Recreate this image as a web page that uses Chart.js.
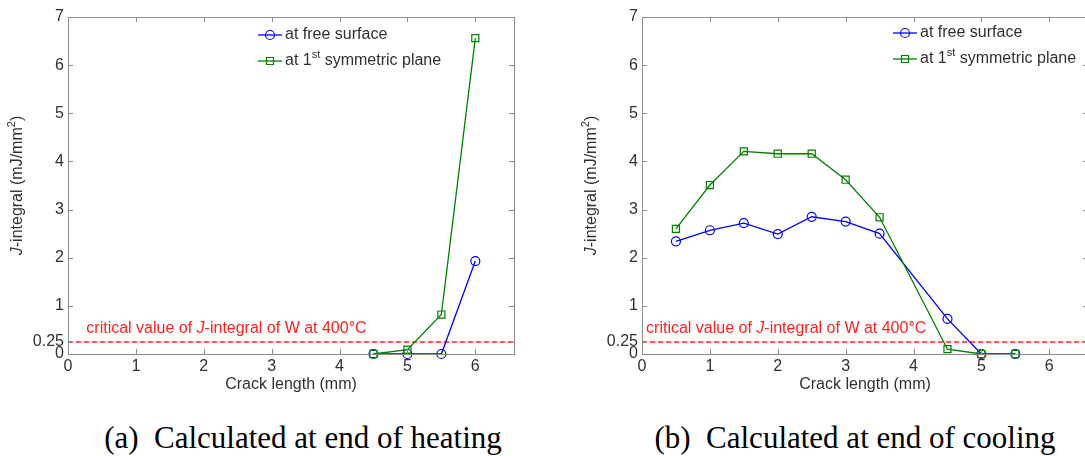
<!DOCTYPE html>
<html>
<head>
<meta charset="utf-8">
<script src="https://cdn.jsdelivr.net/npm/chart.js@4.4.1/dist/chart.umd.min.js"></script>
<style>
  html, body { margin: 0; padding: 0; background: #fff; }
  body { width: 1085px; height: 456px; position: relative; overflow: hidden; }
  .panel { position: absolute; top: 0; width: 540px; height: 400px; }
  .caption { position: absolute; top: 422px; width: 500px; text-align: center; white-space: pre;
             font: 31px 'Liberation Serif', 'Times New Roman', serif; line-height: 31px; color: #000; }
</style>
</head>
<body>
<div class="panel" style="left:0"><canvas id="heating"></canvas></div>
<div class="panel" style="left:574px"><canvas id="cooling"></canvas></div>
<div class="caption" style="left:53px">(a)  Calculated at end of heating</div>
<div class="caption" style="left:605px">(b)  Calculated at end of cooling</div>
<script>
// crack length (mm) vs J-integral (mJ/mm^2)
const heatCrack = [4.5, 5, 5.5, 6];
const heatFree = [0, 0, 0, 1.93];
const heatSym = [0, 0.09, 0.82, 6.56];

const coolCrack = [0.5, 1, 1.5, 2, 2.5, 3, 3.5, 4.5, 5, 5.5];
const coolFree = [2.34, 2.57, 2.72, 2.49, 2.85, 2.75, 2.50, 0.73, 0, 0];
const coolSym = [2.60, 3.51, 4.21, 4.16, 4.16, 3.62, 2.84, 0.10, 0, 0];

const xTicks = [0, 1, 2, 3, 4, 5, 6];
const yTicks = [0, 0.25, 1, 2, 3, 4, 5, 6, 7];
const criticalJ = 0.25;
const xMax = 6.57;
const yMax = 7;

const FONT = "'Liberation Sans', Arial, sans-serif";
const TEXT = '#303030';
const AXIS = '#8c8c8c';
const BLUE = '#0000ff';
const GREEN = '#008000';
const RED = '#ff2020';

function toPoints(xs, ys) {
  return xs.map((x, i) => ({ x: x, y: ys[i] }));
}

function fontFor(p) {
  return (p.it ? 'italic ' : '') + (p.sup ? '11px ' : '16px ') + FONT;
}

// text made of pieces, some italic or superscript
function drawRich(ctx, parts, x, y, align) {
  ctx.textBaseline = 'middle';
  ctx.textAlign = 'left';
  let w = 0;
  parts.forEach(p => { ctx.font = fontFor(p); w += ctx.measureText(p.t).width; });
  let cx = align === 'center' ? x - w / 2 : x;
  parts.forEach(p => {
    ctx.font = fontFor(p);
    ctx.fillText(p.t, cx, p.sup ? y - 6 : y);
    cx += ctx.measureText(p.t).width;
  });
}

function drawMarker(ctx, style, x, y, color) {
  ctx.strokeStyle = color;
  ctx.lineWidth = 1.2;
  ctx.beginPath();
  if (style === 'circle') ctx.arc(x, y, 4.5, 0, Math.PI * 2);
  else ctx.rect(x - 3.5, y - 3.5, 7, 7);
  ctx.stroke();
}

const yTitle = [{ t: 'J', it: true }, { t: '-integral (mJ/mm' }, { t: '2', sup: true }, { t: ')' }];
const xTitle = [{ t: 'Crack length (mm)' }];
const noteText = [{ t: 'critical value of ' }, { t: 'J', it: true }, { t: '-integral of W at 400°C' }];
const legendItems = [
  { color: BLUE, marker: 'circle', text: [{ t: 'at free surface' }] },
  { color: GREEN, marker: 'rect', text: [{ t: 'at 1' }, { t: 'st', sup: true }, { t: ' symmetric plane' }] }
];

// box, inward ticks, titles, legend and the threshold note
const matlabFrame = {
  id: 'frame',
  afterDraw(chart, args, opts) {
    const { ctx, chartArea: a, scales: { x, y } } = chart;
    ctx.save();
    ctx.strokeStyle = AXIS;
    ctx.lineWidth = 1;
    ctx.strokeRect(a.left + 0.5, a.top + 0.5, a.right - a.left, a.bottom - a.top);
    ctx.beginPath();
    xTicks.forEach(v => {
      const px = Math.round(x.getPixelForValue(v)) + 0.5;
      ctx.moveTo(px, a.bottom); ctx.lineTo(px, a.bottom - 5);
      ctx.moveTo(px, a.top); ctx.lineTo(px, a.top + 5);
    });
    yTicks.forEach(v => {
      const py = Math.round(y.getPixelForValue(v)) + 0.5;
      ctx.moveTo(a.left, py); ctx.lineTo(a.left + 5, py);
      ctx.moveTo(a.right, py); ctx.lineTo(a.right - 5, py);
    });
    ctx.stroke();

    ctx.fillStyle = TEXT;
    drawRich(ctx, xTitle, (a.left + a.right) / 2, 385, 'center');
    ctx.save();
    ctx.translate(a.left - 50, (a.top + a.bottom) / 2);
    ctx.rotate(-Math.PI / 2);
    drawRich(ctx, yTitle, 0, 0, 'center');
    ctx.restore();

    legendItems.forEach((item, i) => {
      const ly = opts.legendY[i];
      ctx.strokeStyle = item.color;
      ctx.lineWidth = 1.3;
      ctx.beginPath();
      ctx.moveTo(opts.legendX, ly);
      ctx.lineTo(opts.legendX + 24, ly);
      ctx.stroke();
      drawMarker(ctx, item.marker, opts.legendX + 12, ly, item.color);
      ctx.fillStyle = TEXT;
      drawRich(ctx, item.text, opts.legendX + 27, ly, 'left');
    });

    ctx.fillStyle = RED;
    drawRich(ctx, noteText, x.getPixelForValue(opts.noteAt[0]), y.getPixelForValue(opts.noteAt[1]), 'left');
    ctx.restore();
  }
};

function buildChart(id, crack, free, sym, frameOpts) {
  return new Chart(document.getElementById(id), {
    type: 'line',
    data: {
      datasets: [
        { data: toPoints([0, xMax], [criticalJ, criticalJ]), borderColor: RED, borderWidth: 1.4,
          borderDash: [5, 3], pointRadius: 0, order: 2 },
        { data: toPoints(crack, free), borderColor: BLUE, borderWidth: 1.3, pointStyle: 'circle',
          pointRadius: 4.5, pointBorderWidth: 1.2, pointBackgroundColor: 'rgba(0,0,0,0)',
          pointBorderColor: BLUE, clip: 8, order: 1 },
        { data: toPoints(crack, sym), borderColor: GREEN, borderWidth: 1.3, pointStyle: 'rect',
          pointRadius: 5, pointBorderWidth: 1.2, pointBackgroundColor: 'rgba(0,0,0,0)',
          pointBorderColor: GREEN, clip: 8, order: 0 }
      ]
    },
    options: {
      responsive: true,
      maintainAspectRatio: false,
      animation: false,
      events: [],
      layout: { padding: { top: 17, right: 26, left: 0, bottom: 0 } },
      scales: {
        x: {
          type: 'linear', min: 0, max: xMax,
          grid: { display: false, drawTicks: false },
          border: { display: false },
          afterBuildTicks: s => { s.ticks = xTicks.map(v => ({ value: v })); },
          afterFit: s => { s.height = 46; },
          ticks: { color: TEXT, padding: 3, font: { family: FONT, size: 16 }, maxRotation: 0,
                   callback: v => String(v) }
        },
        y: {
          type: 'linear', min: 0, max: yMax,
          grid: { display: false, drawTicks: false },
          border: { display: false },
          afterBuildTicks: s => { s.ticks = yTicks.map(v => ({ value: v })); },
          afterFit: s => { s.width = 68; },
          ticks: { color: TEXT, padding: 4, autoSkip: false, font: { family: FONT, size: 16 },
                   callback: v => String(v) }
        }
      },
      plugins: {
        legend: { display: false },
        tooltip: { enabled: false },
        frame: frameOpts
      }
    },
    plugins: [matlabFrame]
  });
}

buildChart('heating', heatCrack, heatFree, heatSym, { legendX: 258, legendY: [35, 61], noteAt: [0.27, 0.52] });
buildChart('cooling', coolCrack, coolFree, coolSym, { legendX: 319, legendY: [33, 59], noteAt: [0.06, 0.52] });
</script>
</body>
</html>
